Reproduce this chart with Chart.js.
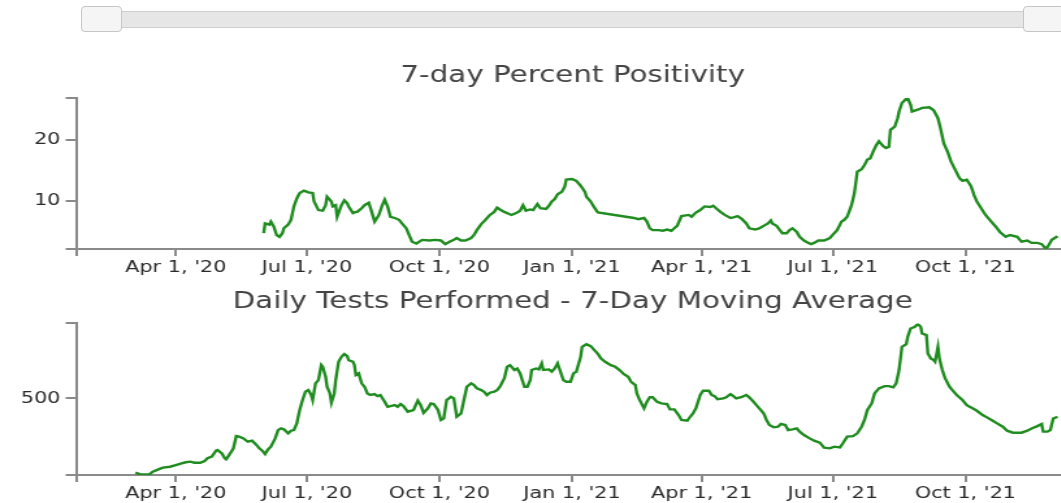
<!DOCTYPE html>
<html>
<head>
<meta charset="utf-8">
<script src="https://cdn.jsdelivr.net/npm/chart.js@4.4.1/dist/chart.umd.min.js"></script>
<style>
    html, body { margin: 0; padding: 0; background: #fff; width: 1061px; height: 503px; overflow: hidden; position: relative; }
    .track { position: absolute; left: 110px; top: 11px; width: 920px; height: 15px; background: #e6e6e6; border: 1px solid #cfcfcf; }
    .handle { position: absolute; top: 6px; width: 39px; height: 24px; background: #f5f5f5; border: 1px solid #c6c6c6; border-radius: 4px; }
    .chart-box { position: absolute; left: 0; transform: scaleX(1.3); transform-origin: 0 0; }
</style>
</head>
<body>
<div class="track"></div>
<div class="handle" style="left:81px"></div>
<div class="handle" style="left:1023px"></div>
<div class="chart-box" style="top:40px"><canvas id="chartPositivity" width="881" height="240"></canvas></div>
<div class="chart-box" style="top:280px"><canvas id="chartTests" width="881" height="226"></canvas></div>
<script>
// x axis: days counted from Jan 1, 2020
const xMin = 21.8;
const xMax = 762.1;
const xTickDays = [91, 182, 274, 366, 456, 547, 639];
const xTickLabels = ["Apr 1, '20", "Jul 1, '20", "Oct 1, '20", "Jan 1, '21", "Apr 1, '21", "Jul 1, '21", "Oct 1, '21"];

// 7-day percent positivity
const positivityDays = [152, 153, 156, 157, 159, 161, 163, 165, 166, 169, 171, 173, 175, 177, 180, 183, 186, 187, 190, 193,
    195, 196, 199, 200, 202, 203, 206, 208, 210, 211, 214, 216, 217, 220, 222, 225, 227, 229, 232, 234,
    236, 238, 240, 243, 246, 248, 251, 253, 255, 258, 262, 267, 271, 275, 278, 281, 284, 286, 289, 292,
    296, 298, 300, 303, 306, 309, 312, 314, 316, 319, 322, 324, 328, 330, 332, 334, 337, 339, 342, 344,
    348, 350, 352, 354, 356, 359, 361, 362, 366, 369, 372, 375, 376, 379, 381, 383, 384, 409, 412, 416,
    418, 420, 422, 426, 429, 432, 435, 437, 439, 442, 447, 449, 452, 455, 458, 462, 464, 466, 469, 472,
    476, 478, 481, 484, 487, 489, 493, 496, 499, 502, 504, 505, 508, 510, 512, 515, 517, 519, 522, 524,
    527, 530, 532, 534, 537, 541, 545, 548, 550, 553, 555, 557, 560, 562, 564, 567, 569, 571, 573, 575,
    577, 579, 582, 584, 586, 587, 590, 592, 593, 595, 598, 599, 601, 602, 606, 609, 614, 617, 620, 622,
    624, 627, 629, 632, 635, 637, 640, 643, 645, 647, 650, 653, 657, 660, 663, 667, 670, 675, 678, 682,
    685, 689, 692, 695, 697, 699, 703];
const positivityValues = [4.7, 6.3, 6.1, 6.6, 5.8, 4.4, 4.1, 4.7, 5.5, 6.1, 6.9, 9.1, 10.4, 11.3, 11.7, 11.4, 11.3, 9.9, 8.5, 8.4,
    9.3, 10.7, 9.9, 9.1, 9.3, 7.4, 9.3, 10.1, 9.6, 9.1, 8.0, 8.2, 8.2, 8.8, 9.3, 9.7, 8.2, 6.6, 7.7, 9.1,
    10.2, 9.1, 7.4, 7.2, 6.9, 6.3, 5.5, 4.4, 3.3, 3.0, 3.6, 3.5, 3.6, 3.5, 2.9, 3.3, 3.6, 3.9, 3.5, 3.5,
    3.9, 4.4, 5.2, 6.2, 6.9, 7.7, 8.2, 8.9, 8.6, 8.2, 7.9, 7.7, 8.1, 8.4, 9.3, 8.4, 8.6, 8.5, 9.5, 8.8,
    8.7, 9.2, 9.9, 10.3, 11.1, 11.5, 12.4, 13.5, 13.6, 13.3, 12.5, 11.5, 10.7, 9.9, 9.1, 8.4, 8.1, 7.2, 7.0, 7.2,
    6.6, 5.5, 5.2, 5.2, 5.1, 5.3, 5.1, 5.5, 5.9, 7.5, 7.7, 7.4, 8.1, 8.5, 9.1, 9.0, 9.2, 8.8, 8.2, 7.7,
    7.2, 7.3, 7.5, 7.0, 6.3, 5.5, 5.3, 5.5, 5.9, 6.3, 6.8, 6.3, 5.9, 5.3, 4.7, 4.7, 5.2, 5.5, 4.9, 4.1,
    3.5, 3.1, 2.9, 3.1, 3.5, 3.5, 3.9, 4.7, 5.2, 6.6, 6.9, 7.4, 9.3, 11.3, 14.8, 15.2, 15.9, 16.8, 17.0, 18.1,
    19.1, 19.8, 19.0, 18.7, 18.9, 21.7, 22.2, 23.6, 24.7, 26.1, 26.8, 26.9, 25.8, 24.7, 25.0, 25.3, 25.4, 24.9, 23.6, 21.7,
    19.5, 17.9, 16.5, 15.1, 13.7, 13.3, 13.5, 12.4, 11.0, 9.9, 8.8, 7.7, 6.6, 5.8, 4.9, 4.1, 4.4, 4.1, 3.3, 3.5,
    3.1, 3.1, 2.9, 2.1, 2.8, 3.6, 4.2];
const positivityMin = 2.1;
const positivityMax = 26.9;
const positivityTicks = [10, 20];

// daily tests performed, 7-day moving average
const testDays = [63, 66, 70, 73, 75, 79, 82, 87, 91, 95, 98, 101, 104, 108, 111, 113, 116, 119, 120, 123,
    125, 126, 128, 131, 133, 135, 138, 141, 144, 147, 149, 151, 153, 155, 157, 160, 162, 164, 166, 169,
    171, 173, 175, 177, 179, 181, 183, 185, 186, 188, 190, 192, 193, 195, 196, 198, 199, 201, 202, 204,
    206, 208, 210, 211, 214, 215, 216, 218, 220, 222, 224, 226, 229, 231, 233, 236, 238, 240, 243, 245,
    247, 249, 252, 254, 256, 259, 261, 263, 266, 268, 270, 273, 275, 277, 279, 282, 284, 286, 289, 291,
    293, 296, 298, 300, 303, 305, 307, 309, 312, 314, 316, 319, 321, 323, 326, 328, 330, 333, 335, 337,
    338, 341, 343, 345, 346, 350, 352, 354, 356, 358, 360, 362, 365, 367, 369, 372, 373, 376, 379, 382,
    384, 386, 389, 393, 396, 399, 402, 405, 407, 410, 411, 413, 416, 418, 420, 422, 425, 428, 432, 434,
    437, 440, 442, 446, 448, 450, 452, 455, 457, 461, 463, 465, 467, 471, 473, 476, 478, 480, 484, 487,
    489, 492, 494, 496, 499, 501, 503, 506, 509, 511, 514, 516, 519, 522, 524, 527, 531, 534, 538, 541,
    545, 548, 552, 554, 557, 561, 564, 567, 569, 571, 574, 576, 579, 583, 586, 589, 591, 593, 595, 598,
    599, 601, 604, 606, 608, 609, 612, 613, 615, 617, 618, 620, 621, 623, 625, 628, 630, 633, 637, 640,
    644, 647, 651, 654, 658, 661, 665, 668, 672, 675, 678, 682, 685, 689, 692, 693, 696, 698, 700, 703];
const testValues = [15, 6, 4, 6, 22, 37, 48, 54, 65, 76, 83, 87, 80, 80, 91, 109, 120, 159, 163, 141,
    109, 102, 130, 174, 254, 250, 239, 217, 224, 196, 174, 159, 137, 167, 185, 239, 293, 304, 298, 272,
    289, 293, 337, 424, 489, 543, 554, 522, 489, 598, 619, 717, 706, 641, 576, 532, 472, 532, 619, 739,
    771, 789, 776, 750, 739, 717, 652, 663, 598, 576, 532, 522, 528, 515, 522, 478, 445, 450, 456, 445,
    463, 450, 413, 419, 424, 485, 456, 406, 435, 467, 463, 424, 359, 369, 489, 510, 500, 380, 402, 489,
    576, 598, 587, 565, 554, 543, 522, 537, 543, 554, 576, 630, 706, 717, 685, 695, 663, 576, 576, 619,
    685, 695, 689, 728, 685, 689, 674, 695, 728, 674, 619, 608, 608, 663, 674, 771, 836, 854, 841, 810,
    790, 761, 739, 717, 706, 685, 658, 641, 608, 587, 532, 489, 435, 478, 507, 507, 478, 467, 463, 428,
    428, 391, 359, 354, 380, 402, 435, 522, 550, 550, 522, 515, 494, 500, 507, 528, 515, 500, 510, 522,
    507, 478, 456, 435, 402, 359, 326, 311, 315, 333, 326, 293, 298, 304, 283, 261, 239, 224, 211, 178,
    174, 185, 180, 207, 250, 254, 272, 315, 359, 424, 467, 532, 565, 580, 580, 572, 598, 685, 836, 854,
    902, 956, 967, 985, 967, 923, 913, 793, 761, 750, 739, 836, 761, 685, 630, 576, 554, 522, 489, 456,
    435, 419, 391, 376, 354, 337, 315, 289, 276, 276, 276, 289, 304, 319, 333, 283, 283, 293, 369, 380];
const testMin = 0;
const testMax = 989;
const testTicks = [500];

const LINE_COLOR = "#1f8c1f";
const AXIS_COLOR = "#8a8a8a";
const FONT = "'DejaVu Sans', Verdana, sans-serif";

function toPoints(days, values) {
    return days.map((d, i) => ({ x: d, y: values[i] }));
}

function buildChart(canvasId, title, titlePadding, days, values, yMin, yMax, yTicks) {
    const config = {
        type: "line",
        data: {
            datasets: [{
                data: toPoints(days, values),
                borderColor: LINE_COLOR,
                borderWidth: 2.4,
                pointRadius: 0,
                tension: 0,
                fill: false
            }]
        },
        options: {
            responsive: false,
            animation: false,
            layout: { padding: 0 },
            plugins: {
                legend: { display: false },
                tooltip: { enabled: false },
                title: {
                    display: true,
                    text: title,
                    color: "#444",
                    font: { family: FONT, size: 22.6, weight: "normal" },
                    padding: titlePadding
                }
            },
            scales: {
                x: {
                    type: "linear",
                    min: xMin,
                    max: xMax,
                    grid: { drawOnChartArea: false, drawTicks: true, tickLength: 7, color: AXIS_COLOR, lineWidth: 2 },
                    border: { display: true, color: AXIS_COLOR, width: 2 },
                    ticks: {
                        autoSkip: false,
                        maxRotation: 0,
                        padding: 2,
                        color: "#2a2a2a",
                        font: { family: FONT, size: 16 },
                        callback: (v) => {
                            const i = xTickDays.indexOf(v);
                            return i >= 0 ? xTickLabels[i] : "";
                        }
                    },
                    afterBuildTicks: (axis) => {
                        axis.ticks = [xMin, ...xTickDays, xMax].map((v) => ({ value: v }));
                    },
                    afterFit: (axis) => { axis.height = 31; }
                },
                y: {
                    type: "linear",
                    min: yMin,
                    max: yMax,
                    grid: { drawOnChartArea: false, drawTicks: true, tickLength: 8, color: AXIS_COLOR, lineWidth: 2 },
                    border: { display: true, color: AXIS_COLOR, width: 2 },
                    ticks: {
                        padding: 4,
                        color: "#2a2a2a",
                        font: { family: FONT, size: 16 },
                        callback: (v) => (yTicks.includes(v) ? String(v) : "")
                    },
                    afterBuildTicks: (axis) => {
                        axis.ticks = [yMin, ...yTicks, yMax].map((v) => ({ value: v }));
                    },
                    afterFit: (axis) => { axis.width = 58.5; }
                }
            }
        }
    };
    return new Chart(document.getElementById(canvasId), config);
}

buildChart("chartPositivity", "7-day Percent Positivity", { top: 22.5, bottom: 8.5 },
    positivityDays, positivityValues, positivityMin, positivityMax, positivityTicks);
buildChart("chartTests", "Daily Tests Performed - 7-Day Moving Average", { top: 8.5, bottom: 7.8 },
    testDays, testValues, testMin, testMax, testTicks);
</script>
</body>
</html>
